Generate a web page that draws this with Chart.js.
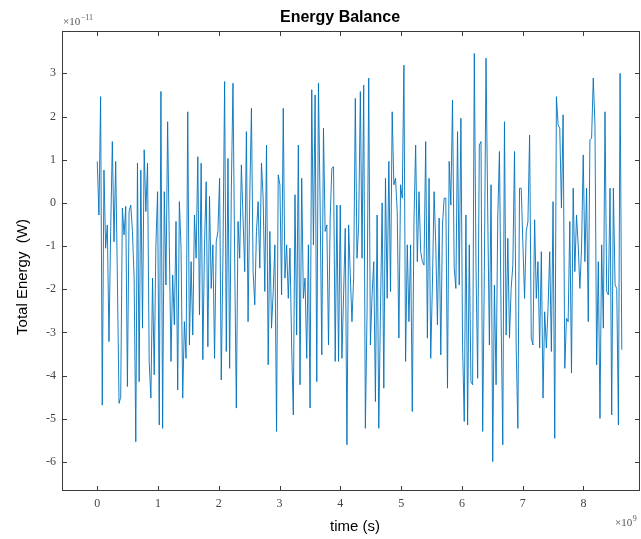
<!DOCTYPE html>
<html>
<head>
<meta charset="utf-8">
<title>Energy Balance</title>
<script src="https://cdn.jsdelivr.net/npm/chart.js@4.4.1/dist/chart.umd.min.js"></script>
<style>
  html, body { margin: 0; padding: 0; background: #ffffff; }
  #wrap { position: relative; width: 641px; height: 539px; }
</style>
</head>
<body>
<div id="wrap"><canvas id="energy_chart" width="641" height="539"></canvas></div>
<script>
// total energy samples, in units of 1e-11 W
const energyValues = [
  0.96, -0.28, 2.46, -4.68, 0.76, -1.05, -0.51, -3.21, -0.66, 1.42, -0.90, 0.96, -1.74, -4.64, -4.5, -0.12, -0.74,
  -0.08, -4.25, -0.20, -0.05, -0.66, -1.74, -5.53, 0.92, -4.14, 0.76, -2.90, 1.23, -0.20, 0.92, -3.67, -4.52, -1.74,
  -3.98, -0.97, 0.26, -5.14, 2.58, -5.22, 0.26, -1.90, 1.88, -0.97, -3.67, -1.67, -2.82, -0.43, -4.33, 0.03, -1.05,
  -4.52, -2.75, -3.60, 2.11, -3.29, -1.36, -3.06, -0.28, -1.28, 1.07, -2.59, 0.92, -3.63, -0.97, 0.49, -3.33, 0.15,
  -1.98, -0.97, -3.60, -0.90, -0.66, 0.57, -4.10, -1.28, 2.81, -3.44, 1.03, -3.83, 0.30, 2.77, -1.28, -4.75, -0.43,
  -1.28, 0.88, -0.35, -1.59, 1.65, -2.75, 0.11, 2.19, -1.59, -2.36, -0.66, 0.03, -1.51, 0.92, 0.11, -2.05, 1.34,
  -3.75, -0.66, -2.90, -2.05, -0.97,
  -5.29, 0.65, 0.42, -2.13, 2.19, -1.74, -0.97, -2.21, -1.05, -3.29, -4.91, 0.19, -3.06, 1.34, -4.21, 0.57, -2.21,
  -1.74, -3.60, -0.97, -4.75, 2.62, -0.97, 2.50, -4.14, 2.77, -0.05, -3.52, 1.73, -0.66, -0.51, -3.29, -0.35, 0.80,
  0.84, -3.67, -0.05, -3.67, -0.05, -3.60, -2.13, -0.59, -5.60, -0.51, -1.67, -2.75, -1.74, 2.42, -1.28, -0.51, 2.58,
  -1.28, 2.73,
  -5.22, -2.52, 2.89, -3.29, -2.13, -1.36, -4.60, -0.28, -5.22, -2.52, 0.0, -4.29, 0.57, -2.21, 0.96, -2.05, 2.11,
  0.42, 0.57, -0.20, -3.13, 0.42, 0.11, 3.19, -3.67, -0.97, -2.75, -0.97, -4.83, -0.43, 1.34, -1.36, 0.26, -1.13,
  -1.36, -1.44, 1.42, -3.13, 0.57, -3.60, -1.90, 0.26, -0.97, -2.82, -0.35, -3.52, -0.51, 0.11,
  0.11, -4.29, 0.96, -0.05, 2.38, -1.51, -1.98, 1.65, -1.90, 1.96, -3.29, -5.06, -0.28, -5.14, -0.97, -4.14, -4.21,
  3.46, -1.44, -4.06, 1.34, 1.42, -5.29, -1.59, 3.35, -0.20, -3.29, 0.42, -5.99, -1.90, -4.21, -0.35, 1.19, -2.67,
  -5.60, 1.88, -3.06, -0.82, -3.13, -1.98, -1.44, 1.19, -3.36, -5.22, 0.34, 0.34, -0.97, -2.21, -0.66, -0.43, 1.57,
  -3.13, -3.29, -0.39, -2.21, -1.36, -3.36, -1.13, -4.52, -2.52, -3.36, -2.44, -1.13, -3.44, 0.03, -5.45, 2.46, 1.81,
  1.73, -0.12, 2.04, -3.83, -2.67, -2.75, -0.43, -3.94, 0.34, -1.59, -0.28, -0.97, -1.98, -1.05, 1.11, -1.36, 0.34,
  -2.75, 1.46, 1.50, 2.89, 1.81, -3.75, -1.36, -4.99, -0.97, -2.90, 2.11, -2.05, -2.13, 0.34, -4.91, 0.34, -1.90,
  -1.98, -5.14, 3.00, -3.40
];

// sampling: first and last time stamp, in units of 1e9 s
const timeStart = 0;
const timeEnd = 8.63;

const xTicks = [0, 1, 2, 3, 4, 5, 6, 7, 8];
const yTicks = [-6, -5, -4, -3, -2, -1, 0, 1, 2, 3];

const dt = (timeEnd - timeStart) / (energyValues.length - 1);
const points = energyValues.map((v, i) => ({ x: timeStart + i * dt, y: v }));

const axisColor = '#3c3c3c';
const serif = '"Liberation Serif", "DejaVu Serif", serif';
const sans = '"Liberation Sans", Arial, sans-serif';

// "x10" with a raised exponent, like the axis multipliers matlab prints
function drawMultiplier(ctx, exp, x, y) {
  ctx.font = '11px ' + serif;
  ctx.fillText('\u00d710', x, y);
  const w = ctx.measureText('\u00d710').width;
  ctx.font = '8px ' + serif;
  ctx.fillText(exp, x + w + 0.5, y - 5);
}

// box around the axes, inward ticks, titles and exponent labels
const matlabFrame = {
  id: 'matlabFrame',
  afterDraw(chart) {
    const { ctx, chartArea: a, scales: { x, y } } = chart;
    ctx.save();
    ctx.strokeStyle = axisColor;
    ctx.lineWidth = 1;
    ctx.strokeRect(a.left + 0.5, a.top + 0.5, a.right - a.left - 1, a.bottom - a.top - 1);
    ctx.beginPath();
    xTicks.forEach(v => {
      const px = Math.round(x.getPixelForValue(v)) + 0.5;
      ctx.moveTo(px, a.bottom); ctx.lineTo(px, a.bottom - 5);
      ctx.moveTo(px, a.top); ctx.lineTo(px, a.top + 5);
    });
    yTicks.forEach(v => {
      const py = Math.round(y.getPixelForValue(v)) + 0.5;
      ctx.moveTo(a.left, py); ctx.lineTo(a.left + 5, py);
      ctx.moveTo(a.right, py); ctx.lineTo(a.right - 5, py);
    });
    ctx.stroke();

    ctx.fillStyle = '#000';
    ctx.textAlign = 'center';
    ctx.textBaseline = 'alphabetic';
    ctx.font = 'bold 16px ' + sans;
    ctx.fillText('Energy Balance', 340, 22);

    ctx.font = '15px ' + sans;
    ctx.fillText('time (s)', 355, 531);

    ctx.save();
    ctx.translate(27, 277);
    ctx.rotate(-Math.PI / 2);
    ctx.fillText('Total Energy  (W)', 0, 0);
    ctx.restore();

    ctx.fillStyle = '#555';
    ctx.textAlign = 'left';
    drawMultiplier(ctx, '\u221211', 63, 25);
    drawMultiplier(ctx, '9', 615, 526);
    ctx.restore();
  }
};

new Chart(document.getElementById('energy_chart'), {
  type: 'line',
  data: {
    datasets: [{
      label: 'Total Energy',
      data: points,
      borderColor: 'rgba(0, 114, 189, 0.9)',
      borderWidth: 1,
      pointRadius: 0,
      tension: 0,
      fill: false
    }]
  },
  options: {
    responsive: false,
    animation: false,
    devicePixelRatio: 1,
    layout: { padding: { top: 31, right: 1, bottom: 0, left: 0 } },
    plugins: {
      legend: { display: false },
      title: { display: false },
      tooltip: { enabled: false }
    },
    scales: {
      x: {
        type: 'linear',
        min: -0.58,
        max: 8.93,
        afterBuildTicks: s => { s.ticks = xTicks.map(v => ({ value: v })); },
        afterFit: s => { s.height = 48; },
        grid: { display: false, drawTicks: false },
        border: { display: false },
        ticks: {
          padding: 6,
          maxRotation: 0,
          autoSkip: false,
          color: '#444',
          font: { family: serif, size: 12 }
        }
      },
      y: {
        type: 'linear',
        min: -6.67,
        max: 3.98,
        afterBuildTicks: s => { s.ticks = yTicks.map(v => ({ value: v })); },
        afterFit: s => { s.width = 62; },
        grid: { display: false, drawTicks: false },
        border: { display: false },
        ticks: {
          padding: 6,
          autoSkip: false,
          color: '#444',
          font: { family: serif, size: 12 }
        }
      }
    }
  },
  plugins: [matlabFrame]
});
</script>
</body>
</html>
